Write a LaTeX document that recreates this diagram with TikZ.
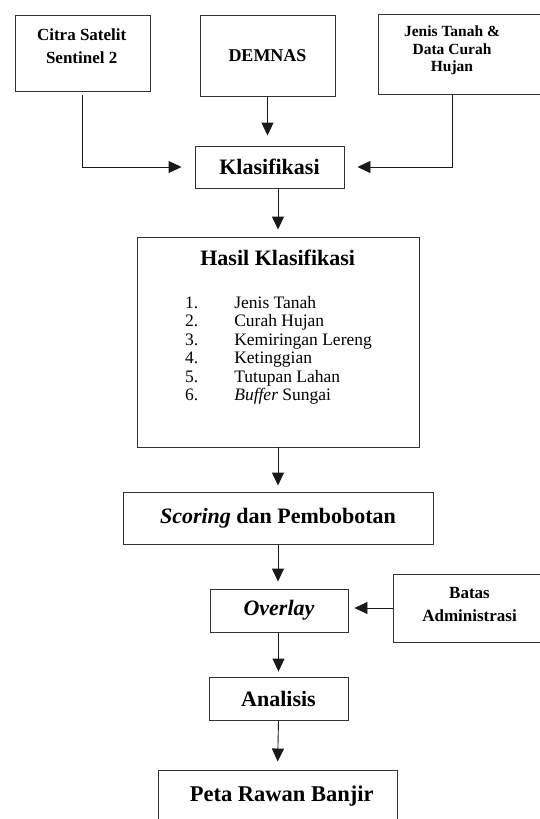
\documentclass[tikz,border=0pt]{standalone}
\usepackage{fontspec}
\setmainfont{Liberation Serif}
\usetikzlibrary{arrows.meta,positioning}
\newcommand{\ukuran}[2]{\fontsize{#1}{#2}\selectfont}

\begin{document}
\begin{tikzpicture}[x=1pt, y=-1pt,
    kotak/.style={draw=black!80, line width=0.9pt, inner sep=0pt},
    judul/.style={font=\ukuran{22}{26}\bfseries},
    teks/.style={inner sep=0pt, align=center},
    panah/.style={draw=black!90, line width=0.9pt, -{Triangle[width=12pt,length=13pt]}}]
  \useasboundingbox (0,0) rectangle (540,819);
  \clip (0,0) rectangle (540,819);
  % data masukan
  \node[kotak, minimum width=135pt, minimum height=76pt] (citra) at (82.5,53) {};
  \node[teks, anchor=north, font=\ukuran{17}{23.3}\bfseries] (citraTeks) at (81.7,28.5) {Citra Satelit\\Sentinel 2};
  \node[kotak, minimum width=135pt, minimum height=81pt, font=\ukuran{18}{22}\bfseries] (demnas) at (267.5,55.5) {DEMNAS};
  \node[kotak, minimum width=182pt, minimum height=80pt] (jenis) at (469,54) {};
  \node[teks, anchor=north, font=\ukuran{15.5}{17.2}\bfseries] (jenisTeks) at (452,26) {Jenis Tanah \&\\Data Curah\\Hujan};
  % proses
  \node[kotak, judul, minimum width=149pt, minimum height=42pt] (klas) at (269.5,167) {Klasifikasi};
  \node[kotak, minimum width=282pt, minimum height=210pt] (hasil) at (278,342) {};
  \node[judul, inner sep=0pt, anchor=base] (hasilJudul) at (277.7,265.7) {Hasil Klasifikasi};
  \node[inner sep=0pt, anchor=north west, font=\ukuran{17.5}{18.5}] (daftar) at (185,295.3) {%
    \begin{tabular}{@{}l@{\hspace{36pt}}l@{}}
      1. & Jenis Tanah\\
      2. & Curah Hujan\\
      3. & Kemiringan Lereng\\
      4. & Ketinggian\\
      5. & Tutupan Lahan\\
      6. & \textit{Buffer} Sungai
    \end{tabular}};
  \node[kotak, judul, minimum width=310pt, minimum height=52pt] (scoring) at (278,518) {\textit{Scoring} dan Pembobotan};
  \node[kotak, judul, minimum width=138pt, minimum height=43pt] (overlay) at (279,610.5) {\textit{Overlay}};
  \node[kotak, minimum width=167pt, minimum height=68pt] (batas) at (476.5,608) {};
  \node[teks, anchor=north, font=\ukuran{17}{23.7}\bfseries] (batasTeks) at (469.5,586.7) {Batas\\Administrasi};
  \node[kotak, judul, minimum width=139pt, minimum height=43pt] (analisis) at (278.5,698.5) {Analisis};
  \node[kotak, minimum width=239pt, minimum height=80pt] (peta) at (277.5,810) {};
  \node[inner sep=0pt, anchor=base, font=\ukuran{22.5}{26}\bfseries] (petaTeks) at (281.7,801.7) {Peta Rawan Banjir};
  % alur
  \draw[panah, shorten <=4pt, shorten >=13pt] (citra.south) |- (klas.west);
  \draw[panah, shorten >=10pt] (demnas.south) -- (demnas.south |- klas.north);
  \draw[panah, shorten <=1pt, shorten >=13pt] (jenisTeks |- jenis.south) |- (klas.east);
  \draw[panah, shorten >=7pt] (klas.south -| hasil.north) -- (hasil.north);
  \draw[panah, shorten >=6pt] (hasil.south) -- (scoring.north);
  \draw[panah, shorten >=7pt] (scoring.south) -- (scoring.south |- overlay.north);
  \draw[panah, shorten >=6pt] (batas.west) -- (batas.west -| overlay.east);
  \draw[panah, shorten >=5pt] (overlay.south -| analisis.north) -- (analisis.north);
  \draw[panah, shorten >=8pt] (analisis.south) -- (peta.north);
\end{tikzpicture}
\end{document}
